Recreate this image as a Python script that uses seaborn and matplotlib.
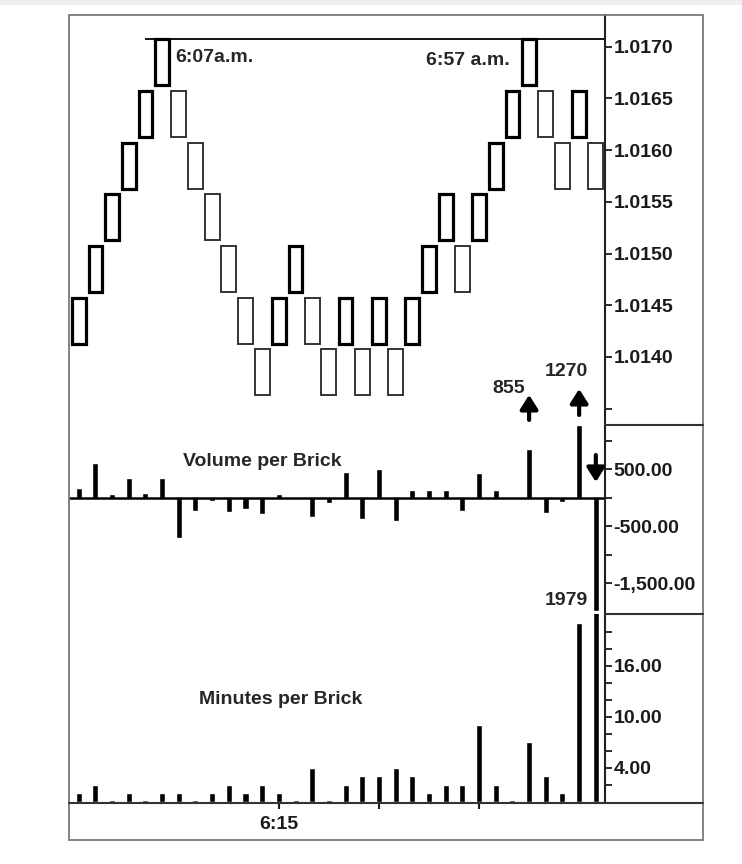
import numpy as np
import pandas as pd
import seaborn as sns
import matplotlib.pyplot as plt
from matplotlib.patches import Rectangle
from matplotlib.lines import Line2D

# renko bricks (low of each brick), brick size 5 pips
brick_low = [1.0141, 1.0146, 1.0151, 1.0156, 1.0161, 1.0166, 1.0161, 1.0156,
             1.0151, 1.0146, 1.0141, 1.0136, 1.0141, 1.0146, 1.0141, 1.0136,
             1.0141, 1.0136, 1.0141, 1.0136, 1.0141, 1.0146, 1.0151, 1.0146,
             1.0151, 1.0156, 1.0161, 1.0166, 1.0161, 1.0156, 1.0161, 1.0156]
brick_size = 0.0005

volume = [175, 610, 60, 340, 90, 350, -713, -228, -50, -250, -205, -285,
          60, 0, -333, -100, 444, -380, 497, -403, 135, 135, 135, -228,
          427, 135, 0, 855, -263, -70, 1270, -1979]

minutes = [1, 2, 0.2, 1, 0.2, 1, 1, 0.2, 1, 2, 1, 2, 1, 0.2, 4, 0.2,
           2, 3, 3, 4, 3, 1, 2, 2, 9, 2, 0.2, 7, 3, 1, 21, 24]

price_ticks = [1.0135, 1.0140, 1.0145, 1.0150, 1.0155, 1.0160, 1.0165, 1.0170]
price_labels = ["", "1.0140", "1.0145", "1.0150", "1.0155", "1.0160", "1.0165", "1.0170"]
vol_ticks = [-1500, -1000, -500, 0, 500, 1000]
vol_labels = ["-1,500.00", "", "-500.00", "", "500.00", ""]
min_ticks = [2, 4, 6, 8, 10, 12, 14, 16, 18, 20]
min_labels = ["", "4.00", "", "", "10.00", "", "", "16.00", "", ""]
time_ticks = [12, 18, 24]
time_labels = ["6:15", "", ""]

sns.set_style("white")
plt.rcParams["font.family"] = ["Liberation Sans", "DejaVu Sans"]
plt.rcParams["font.weight"] = "bold"

W, H = 742, 864
fig = plt.figure(figsize=(W / 100, H / 100), dpi=100)


def panel(top, bottom):
    return fig.add_axes([69 / W, 1 - bottom / H, (605 - 69) / W, (bottom - top) / H])


ax_p = panel(15, 425)
ax_v = panel(425, 614)
ax_m = panel(614, 803)

df = pd.DataFrame({"brick": np.arange(len(brick_low)), "low": brick_low,
                   "volume": volume, "minutes": minutes})
df["up"] = df["low"].diff().fillna(1) > 0

# price bricks
up = df[df["up"]]
dn = df[~df["up"]]
ax_p.bar(up["brick"], brick_size * 0.89, bottom=up["low"] + brick_size * 0.055,
         width=0.82, fill=False, edgecolor="black", linewidth=2.3)
ax_p.bar(dn["brick"], brick_size * 0.89, bottom=dn["low"] + brick_size * 0.055,
         width=0.89, fill=False, edgecolor="#333333", linewidth=1.4)
top_line = max(brick_low) + brick_size * 0.945
ax_p.hlines(top_line, 3.97, 31.55, color="black", lw=1.3)
ax_p.set_ylim(1.013342, 1.017307)
ax_p.set_yticks(price_ticks, price_labels)

ax_p.text(5.8, 1.0169, "6:07a.m.", ha="left", va="center", fontsize=14)
ax_p.text(25.85, 1.01687, "6:57 a.m.", ha="right", va="center", fontsize=14)
ax_p.text(26.76, 1.013691, "855", ha="right", va="center", fontsize=14)
ax_p.text(29.22, 1.013855, "1270", ha="center", va="center", fontsize=14)
arrow = dict(arrowstyle="-|>,head_width=0.38,head_length=0.6", lw=3.0,
             color="black", shrinkA=0, shrinkB=0, mutation_scale=14)
ax_p.annotate("", xy=(27, 1.013633), xytext=(27, 1.013391), arrowprops=arrow)
ax_p.annotate("", xy=(30, 1.013691), xytext=(30, 1.013439), arrowprops=arrow)

# volume per brick
sns.barplot(data=df, x="brick", y="volume", native_scale=True, width=0.36,
            color="black", saturation=1, errorbar=None, ax=ax_v)
ax_v.axhline(0, color="black", lw=1.8)
ax_v.set_ylim(-2040, 1275)
ax_v.set_yticks(vol_ticks, vol_labels)
ax_v.text(11.0, 628, "Volume per Brick", ha="center", va="center", fontsize=14)
ax_v.text(30.55, -1795, "1979", ha="right", va="center", fontsize=14)
ax_v.annotate("", xy=(31, 275), xytext=(31, 749), arrowprops=arrow)

# minutes per brick
sns.barplot(data=df, x="brick", y="minutes", native_scale=True, width=0.36,
            color="black", saturation=1, errorbar=None, ax=ax_m)
ax_m.set_ylim(-0.15, 22.08)
ax_m.set_yticks(min_ticks, min_labels)
ax_m.text(12.1, 12.0, "Minutes per Brick", ha="center", va="center", fontsize=14)

for ax in (ax_p, ax_v, ax_m):
    ax.set_xlim(-0.58, 31.55)
    ax.set_xlabel("")
    ax.set_ylabel("")
    ax.set_facecolor("none")
    ax.yaxis.tick_right()
    for s in ("left", "top", "bottom"):
        ax.spines[s].set_visible(False)
    ax.spines["right"].set_color("#222222")
    ax.spines["right"].set_linewidth(1.5)
    ax.tick_params(axis="y", which="both", direction="out", length=5, width=1.3,
                   pad=1, labelsize=14, colors="#1a1a1a")
    ax.set_xticks([])

ax_m.set_xticks(time_ticks, time_labels)
ax_m.tick_params(axis="x", bottom=True, direction="inout", length=9, width=1.5,
                 pad=5, labelsize=14, colors="#1a1a1a")

# frame and panel separators
fig.add_artist(Rectangle((0, 1 - 5 / H), 1, 5 / H, transform=fig.transFigure,
                         color="#efefef", lw=0))
fig.add_artist(Rectangle((69 / W, 1 - 840 / H), (703 - 69) / W, (840 - 15) / H,
                         transform=fig.transFigure, fill=False,
                         edgecolor="#7a7a7a", lw=1.3))
for y, x0 in ((425, 605), (614, 605), (803, 69)):
    fig.add_artist(Line2D([x0 / W, 703 / W], [1 - y / H, 1 - y / H],
                          transform=fig.transFigure, color="#333333", lw=1.5))

fig.savefig("out.png", dpi=100)
